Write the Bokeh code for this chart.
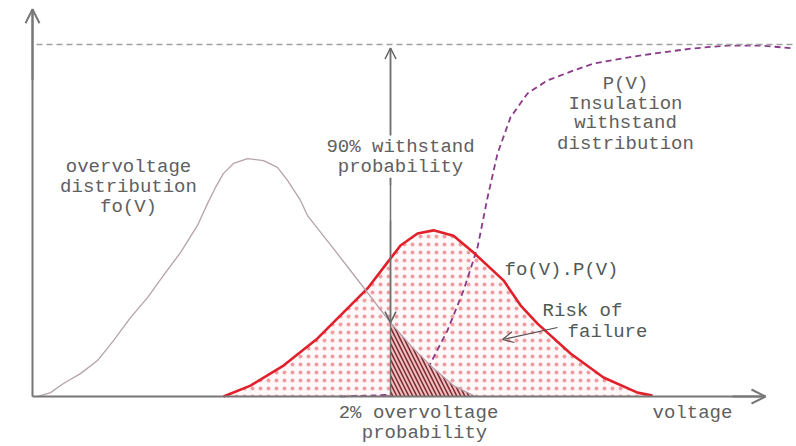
import numpy as np
from bokeh.plotting import figure
from bokeh.models import Range1d, Arrow, OpenHead, Label
from bokeh.embed import file_html
from bokeh.resources import INLINE

# ---- data (voltage in arbitrary units, probability / density normalised to 1 = 100%) ----
# overvoltage distribution fo(V)
fo_v = [0.05, 0.18, 0.31, 0.48, 0.65, 0.81, 0.98, 1.15, 1.31, 1.48, 1.65, 1.75, 1.83, 1.91,
        2.01, 2.15, 2.31, 2.45, 2.55, 2.68, 2.75, 3.01, 3.28, 3.58, 3.81, 4.01, 4.21, 4.41]
fo_y = [0.000, 0.011, 0.037, 0.065, 0.102, 0.159, 0.224, 0.281, 0.344, 0.409, 0.486, 0.548,
        0.594, 0.634, 0.662, 0.676, 0.670, 0.651, 0.614, 0.557, 0.514, 0.420, 0.321, 0.210,
        0.136, 0.080, 0.031, 0.003]

# insulation withstand distribution P(V)
pv_v = [3.08, 3.73, 3.86, 3.98, 4.15, 4.31, 4.45, 4.55, 4.65, 4.78, 4.95, 5.15, 5.41, 5.61,
        5.95, 6.28, 6.61, 6.95, 7.28, 7.61]
pv_y = [0.0, 0.006, 0.035, 0.094, 0.188, 0.301, 0.423, 0.565, 0.690, 0.793, 0.861, 0.898,
        0.926, 0.946, 0.963, 0.977, 0.989, 0.997, 0.997, 0.989]

# product fo(V).P(V)  (risk of failure)
risk_v = [1.91, 2.18, 2.51, 2.85, 3.11, 3.35, 3.55, 3.68, 3.85, 4.01, 4.21, 4.41, 4.71, 4.88,
          5.05, 5.38, 5.71, 6.05, 6.20]
risk_y = [0.000, 0.031, 0.088, 0.165, 0.239, 0.307, 0.381, 0.429, 0.463, 0.472, 0.457, 0.409,
          0.330, 0.259, 0.207, 0.122, 0.054, 0.011, 0.003]

v_2pct = 3.58        # voltage with 2% overvoltage probability
full_prob = 1.0      # 100% level
v_max = 7.33         # end of voltage axis
y_max = 1.10         # end of vertical axis

FONT = "Liberation Mono"
TXT = "#606060"
AX = "#777777"

p = figure(width=796, height=446, output_backend="svg", toolbar_location=None,
           x_range=Range1d(-0.32, 7.64), y_range=Range1d(-0.142, 1.125),
           x_axis_type=None, y_axis_type=None, min_border=0)
p.grid.visible = False
p.outline_line_color = None
p.background_fill_color = "white"
p.border_fill_color = "white"

# dotted area under fo(V).P(V)
p.varea(x=risk_v, y1=0, y2=risk_y, fill_color="#fff8f8", fill_alpha=1.0,
        hatch_pattern="dot", hatch_color="#e0303c", hatch_scale=8, hatch_weight=0.5,
        hatch_alpha=0.45)

# P(V) dashed curve
p.line(pv_v, pv_y, line_color="#8a3a8a", line_width=1.8, line_dash="6 4")

# hatched 2% region under fo(V) beyond v_2pct
fv = np.array(fo_v)
fy = np.array(fo_y)
mask = fv > v_2pct
y_cross = float(np.interp(v_2pct, fv, fy))
hx = np.concatenate([[v_2pct], fv[mask]])
hy = np.concatenate([[y_cross], fy[mask]])
p.varea(x=hx, y1=0, y2=hy, fill_color="#f0c0c0", fill_alpha=1.0,
        hatch_pattern="left_diagonal_line", hatch_color="#7e2832", hatch_scale=8,
        hatch_weight=1.5)

# fo(V).P(V) red curve
p.line(risk_v, risk_y, line_color="#e0202a", line_width=2.6, line_join="round")

# overvoltage distribution curve
p.line(fo_v, fo_y, line_color="#b4a2ac", line_width=1.3, line_join="round")

# 100% dashed line
p.line([0.04, 7.64], [full_prob, full_prob], line_color="#a0a0a0", line_width=1.5,
       line_dash="6 4")

# axes
p.line([0, 0], [0, y_max], line_color=AX, line_width=2)
p.line([0, v_max], [0, 0], line_color=AX, line_width=2)
p.add_layout(Arrow(end=OpenHead(size=14, line_color=AX, line_width=2),
                   x_start=0, y_start=0.9, x_end=0, y_end=y_max, line_color=AX, line_width=2))
p.add_layout(Arrow(end=OpenHead(size=14, line_color=AX, line_width=2),
                   x_start=7.0, y_start=0, x_end=v_max, y_end=0, line_color=AX, line_width=2))

# vertical withstand arrow
p.line([v_2pct, v_2pct], [0, full_prob - 0.01], line_color="#707070", line_width=1.5)
p.add_layout(Arrow(end=OpenHead(size=11, line_color="#606060", line_width=1.5),
                   x_start=v_2pct, y_start=0.6, x_end=v_2pct, y_end=full_prob - 0.01,
                   line_color="#707070", line_width=1.5))
p.add_layout(Arrow(end=OpenHead(size=11, line_color="#606060", line_width=1.5),
                   x_start=v_2pct, y_start=0.5, x_end=v_2pct, y_end=y_cross,
                   line_color="#707070", line_width=1.5))

# risk of failure pointer
p.add_layout(Arrow(end=OpenHead(size=11, line_color="#505050", line_width=1.2),
                   x_start=5.25, y_start=0.196, x_end=4.70, y_end=0.162,
                   line_color="#505050", line_width=1.2))


def lab(x, y, t, color=TXT, bg=None):
    kw = {}
    if bg:
        kw = dict(background_fill_color=bg, background_fill_alpha=1.0)
    p.add_layout(Label(x=x, y=y, text=t, text_align="center", text_baseline="middle",
                       text_font=FONT, text_font_size="19px", text_color=color, **kw))


lab(0.96, 0.651, "overvoltage")
lab(0.96, 0.594, "distribution")
lab(0.96, 0.537, "fo(V)")

lab(3.68, 0.710, "90% withstand", bg="white")
lab(3.68, 0.653, "probability", bg="white")

lab(5.93, 0.889, "P(V)")
lab(5.93, 0.832, "Insulation")
lab(5.93, 0.776, "withstand")
lab(5.93, 0.716, "distribution")

lab(5.29, 0.358, "fo(V).P(V)", color="#4f5a58")
lab(5.50, 0.244, "Risk of", color="#4f5a58")
lab(5.75, 0.182, "failure", color="#4f5a58")

lab(3.86, -0.048, "2% overvoltage")
lab(3.92, -0.105, "probability")
lab(6.60, -0.048, "voltage")

open("out.html", "w").write(file_html(p, INLINE))
